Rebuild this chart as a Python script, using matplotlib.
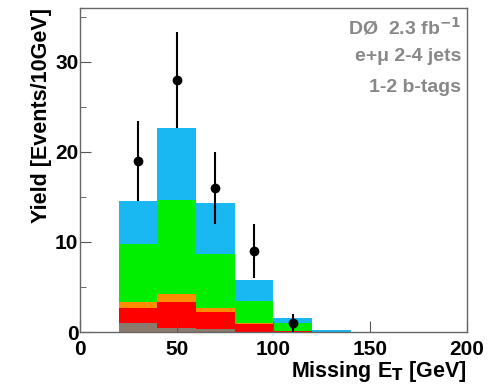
import numpy as np
import matplotlib
matplotlib.use("Agg")
import matplotlib.pyplot as plt

plt.rcParams["font.family"] = ["Liberation Sans", "DejaVu Sans"]
plt.rcParams["font.weight"] = "bold"

# bin edges of missing ET [GeV]
edges = [20, 40, 60, 80, 100, 120, 140, 160, 180, 200]

# stacked background components (bottom to top)
brown = [1.0, 0.5, 0.3, 0.05, 0.0, 0.0, 0.0, 0.0, 0.0]
red = [1.7, 2.8, 1.9, 0.85, 0.1, 0.0, 0.0, 0.0, 0.0]
orange = [0.6, 0.9, 0.5, 0.1, 0.0, 0.0, 0.0, 0.0, 0.0]
green = [6.5, 10.5, 6.0, 2.5, 0.9, 0.05, 0.0, 0.0, 0.0]
cyan = [4.7, 8.0, 5.6, 2.3, 0.6, 0.2, 0.02, 0.0, 0.0]

# data points
data_x = [30, 50, 70, 90, 110]
data_y = [19, 28, 16, 9, 1]
data_err = [4.4, 5.3, 4.0, 3.0, 1.0]

components = [
    (brown, "#8a7a6e"),
    (red, "#ff0000"),
    (orange, "#ff8c00"),
    (green, "#00ee00"),
    (cyan, "#1ab8f2"),
]

fig = plt.figure(figsize=(4.9, 3.92), dpi=100)
ax = fig.add_axes([0.163, 0.153, 0.79, 0.827])

left = np.array(edges[:-1])
width = np.diff(edges)
bottom = np.zeros(len(left))
for vals, col in components:
    ax.bar(left, vals, width=width, bottom=bottom, align="edge",
           color=col, linewidth=0)
    bottom += np.array(vals)

ax.errorbar(data_x, data_y, yerr=data_err, fmt="o", color="black",
            markersize=6, elinewidth=1.5, capsize=0)

ax.set_xlim(0, 200)
ax.set_ylim(0, 36)
ax.set_xticks([0, 50, 100, 150, 200])
ax.set_yticks([0, 10, 20, 30])
ax.set_yticks([5, 15, 25, 35], minor=True)
ax.tick_params(axis="both", which="both", direction="in", labelsize=15,
               color="#555555")
ax.tick_params(axis="both", which="major", length=8)
ax.tick_params(axis="both", which="minor", length=4)
ax.tick_params(axis="x", pad=6)
ax.tick_params(axis="y", pad=1)
for lab in ax.get_xticklabels() + ax.get_yticklabels():
    lab.set_fontweight("bold")
for sp in ax.spines.values():
    sp.set_color("#666666")
    sp.set_linewidth(1.0)

ax.set_xlabel("Missing E$_\\mathbf{T}$ [GeV]", fontsize=15.5, fontweight="bold",
              loc="right", labelpad=0)
ax.set_ylabel("Yield [Events/10GeV]", fontsize=15.5, fontweight="bold",
              loc="top", labelpad=2)

label_col = "#888888"
ax.text(0.985, 0.975, "DØ  2.3 fb$^{\\mathbf{-1}}$", transform=ax.transAxes,
        ha="right", va="top", fontsize=14, color=label_col, fontweight="bold")
ax.text(0.985, 0.875, "e+μ 2-4 jets", transform=ax.transAxes,
        ha="right", va="top", fontsize=14, color=label_col, fontweight="bold")
ax.text(0.985, 0.78, "1-2 b-tags", transform=ax.transAxes,
        ha="right", va="top", fontsize=14, color=label_col, fontweight="bold")

fig.savefig("out.png", dpi=100)
